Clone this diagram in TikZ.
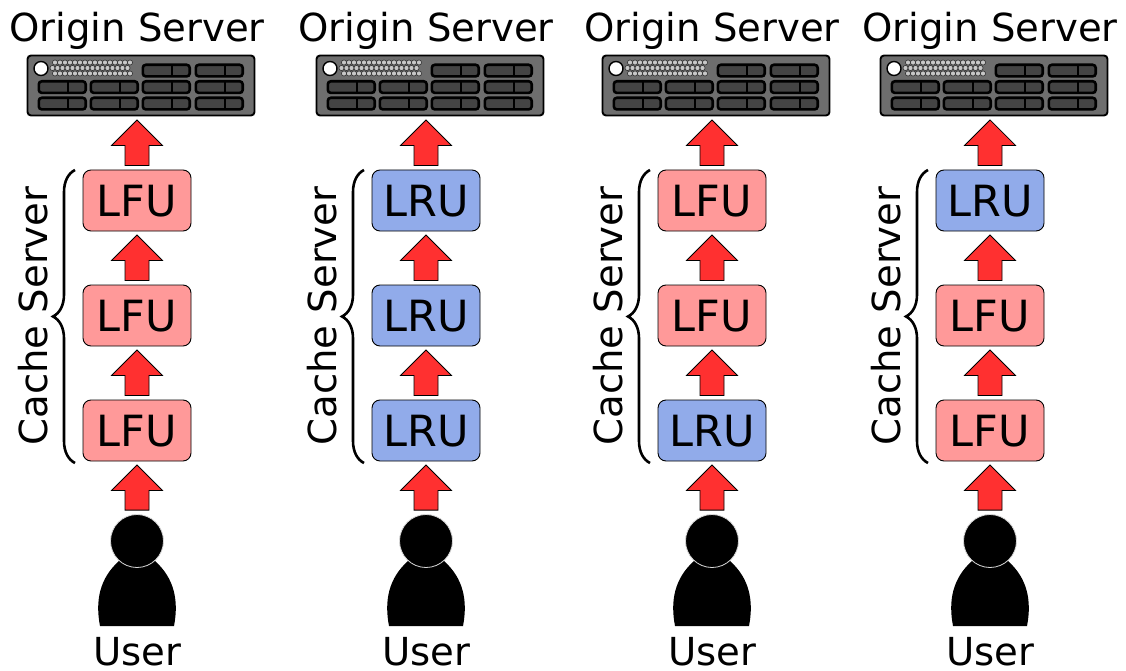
\documentclass[tikz,border=0pt]{standalone}
\usepackage{fontspec}
\setmainfont{DejaVu Sans}
\usetikzlibrary{calc, decorations.pathreplacing}
\definecolor{lfured}{HTML}{FF9999}
\definecolor{lrublue}{HTML}{91ABEA}
\definecolor{arrowred}{HTML}{FF3030}
\definecolor{servergray}{HTML}{6E6E6E}
\definecolor{slotgray}{HTML}{444444}
\tikzset{
	label38/.style={font=\fontsize{38.6}{40}\selectfont, inner sep=0pt},
	cachebox/.style={draw, line width=.9pt, rounded corners=8pt, minimum width=108pt, minimum height=61pt, inner sep=0pt, text height=31pt, text depth=0pt, font=\fontsize{43}{45}\selectfont},
	lfu/.style={cachebox, fill=lfured},
	lru/.style={cachebox, fill=lrublue},
	blockup/.style={draw, fill=arrowred, line width=.8pt, to path={
		let \p1=(\tikztostart.north), \p2=(\tikztotarget.south) in
		(\x1-12pt,\y1+4pt)--(\x1-12pt,\y2-29pt)--(\x1-25.5pt,\y2-29pt)--(\x1,\y2-3.5pt)
		--(\x1+25.5pt,\y2-29pt)--(\x1+12pt,\y2-29pt)--(\x1+12pt,\y1+4pt)--cycle}},
}
\newcommand{\slot}[2]{
	\draw[line width=2.6pt, fill=slotgray, rounded corners=3pt](#1+.8,#2+.8)rectangle(#1+47.7,#2+12.4);
	\draw[line width=2pt](#1+29.5,#2+1)--(#1+29.5,#2+12);
}
\newcommand{\server}[2]{
	\node[draw, line width=1.9pt, fill=servergray, rounded corners=3.5pt, minimum width=227pt, minimum height=60pt, inner sep=0pt](#2)at(#1+4,85.5){};
	\node[draw=black, line width=1.4pt, fill=white, circle, minimum size=14pt, inner sep=0pt](#2led)at(#1-96,68.5){};
	\foreach \r/\o in {62.5/0, 68/-2.5, 73.5/0}{
		\foreach \d in {0,...,15}{
			\fill[black!80](#1-82+\o+5*\d,\r)circle(2.9pt);
			\fill[black!22](#1-82+\o+5*\d,\r)circle(2.1pt);
		}
	}
	\foreach \s in {-99,-47,5,58}{
		\slot{#1+\s}{80.5}
		\slot{#1+\s}{97}
	}
	\slot{#1+5}{64}
	\slot{#1+58}{64}
}
\newcommand{\usericon}[2]{
	\fill(#1-37,626)..controls(#1-42,600)and(#1-37,578)..(#1-18,561)
	--(#1+18,561)..controls(#1+37,578)and(#1+42,600)..(#1+37,626)--cycle;
	\node[draw=white!85!black, line width=.8pt, fill=black, circle, minimum size=53pt, inner sep=0pt](#2)at(#1,541){};
}
\newcommand{\cachecol}[5]{
	\node[label38, anchor=base](#2origin)at(#1,42){Origin Server};
	\server{#1}{#2server}
	\node[#3](#2top)at(#1,200.5){\MakeUppercase{#3}};
	\node[#4](#2mid)at(#1,315.5){\MakeUppercase{#4}};
	\node[#5](#2bot)at(#1,430.5){\MakeUppercase{#5}};
	\draw[line width=2.6pt, decorate, decoration={brace, amplitude=22pt, aspect=.5}](#1-62,463)--(#1-62,170);
	\node[label38, rotate=90, anchor=base](#2cache)at(#1-90,316){Cache Server};
	\usericon{#1}{#2head}
	\node[label38, anchor=base](#2user)at(#1,665){User};
	\draw[blockup](#2head)to(#2bot);
	\draw[blockup](#2bot)to(#2mid);
	\draw[blockup](#2mid)to(#2top);
	\draw[blockup](#2top)to(#2server);
}
\begin{document}
\begin{tikzpicture}[x=1pt, y=-1pt]
	\useasboundingbox(0,0)rectangle(1126,671);
	\cachecol{137}{a}{lfu}{lfu}{lfu}
	\cachecol{426}{b}{lru}{lru}{lru}
	\cachecol{712}{c}{lfu}{lfu}{lru}
	\cachecol{990}{d}{lru}{lfu}{lfu}
\end{tikzpicture}
\end{document}
